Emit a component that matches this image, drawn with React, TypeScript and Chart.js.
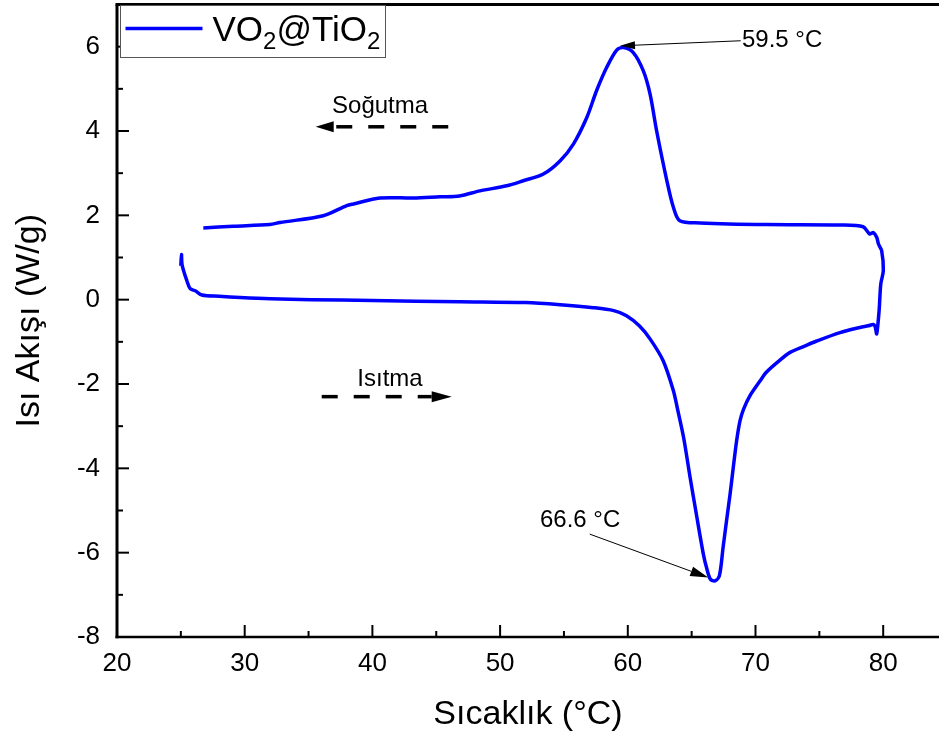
import React, { useEffect, useRef } from "react";
import { Chart, registerables } from "chart.js";

Chart.register(...registerables);

// Heating branch (Isıtma): temperature (°C) and heat flow (W/g)
const heatT = [
  25.0, 25.05, 25.1, 25.47, 25.73, 26.13, 26.65, 28.0, 29.66, 32.0, 35.2, 40.0,
  46.85, 52.0, 54.7, 57.3, 58.9, 59.9, 60.9, 61.74, 62.77, 63.57, 63.87, 64.37,
  64.87, 65.37, 65.92, 66.17, 66.47, 66.83, 67.17, 67.46, 67.73, 68.01, 68.26,
  68.52, 68.79, 69.06, 69.56, 70.35, 70.85, 71.85, 72.71, 73.85, 74.79, 76.62,
  78.18, 78.83, 79.23, 79.38, 79.49, 79.68, 79.81, 80.01,
];
const heatQ = [
  0.8, 1.07, 0.82, 0.45, 0.26, 0.21, 0.11, 0.08, 0.05, 0.02, 0.0, -0.02,
  -0.05, -0.07, -0.12, -0.19, -0.26, -0.38, -0.62, -0.93, -1.45, -2.16, -2.56, -3.27,
  -4.2, -5.09, -6.04, -6.36, -6.63, -6.67, -6.55, -5.88, -5.25, -4.61, -3.98,
  -3.35, -2.87, -2.6, -2.28, -1.93, -1.72, -1.45, -1.25, -1.1, -0.98, -0.78,
  -0.66, -0.62, -0.59, -0.65, -0.81, -0.26, 0.37, 0.69,
];

// Cooling branch (Soğutma)
const coolT = [
  79.88, 79.63, 79.49, 79.23, 78.93, 78.43, 76.64, 70.85, 65.67, 64.07, 63.57,
  63.06, 62.26, 61.74, 61.21, 60.43, 59.65, 59.13, 58.35, 57.56, 56.79, 55.74,
  54.69, 53.39, 51.81, 50.51, 48.42, 46.82, 45.3, 43.2, 40.59, 38.51, 37.99,
  36.15, 32.76, 31.97, 29.11, 26.76,
];
const coolQ = [
  1.16, 1.32, 1.48, 1.59, 1.56, 1.73, 1.77, 1.78, 1.82, 1.87, 2.19,
  2.82, 4.0, 4.88, 5.43, 5.86, 5.98, 5.92, 5.51, 4.96, 4.32, 3.69,
  3.29, 2.98, 2.82, 2.7, 2.58, 2.46, 2.44, 2.41, 2.41, 2.27, 2.23,
  1.99, 1.83, 1.78, 1.74, 1.7,
];

const xTicks = [20, 30, 40, 50, 60, 70, 80];
const xMinor = [25, 35, 45, 55, 65, 75];
const yTicks = [-8, -6, -4, -2, 0, 2, 4, 6];
const yMinor = [-7, -5, -3, -1, 1, 3, 5];

const seriesParts = ["VO", "2", "@TiO", "2"];
const xTitle = "Sıcaklık (°C)";
const yTitle = "Isı Akışı (W/g)";

const FONT = "'Liberation Sans', Arial, Helvetica, sans-serif";

type Note = { text: string; x: number; y: number; align: CanvasTextAlign };
type Arrow = { x1: number; y1: number; x2: number; y2: number; len: number; half: number; lw: number; dash: number[] };

const notes: Note[] = [
  { text: "59.5 °C", x: 68.94, y: 6.16, align: "left" },
  { text: "66.6 °C", x: 53.12, y: -5.24, align: "left" },
  { text: "Soğutma", x: 40.6, y: 4.58, align: "center" },
  { text: "Isıtma", x: 41.38, y: -1.9, align: "center" },
];
const arrows: Arrow[] = [
  { x1: 68.84, y1: 6.14, x2: 59.39, y2: 6.02, len: 15, half: 4, lw: 1, dash: [] },
  { x1: 57.02, y1: -5.56, x2: 66.3, y2: -6.59, len: 18, half: 5, lw: 1, dash: [] },
  { x1: 45.94, y1: 4.1, x2: 35.56, y2: 4.1, len: 18, half: 5.5, lw: 3.5, dash: [16, 16] },
  { x1: 36.03, y1: -2.3, x2: 46.21, y2: -2.3, len: 20, half: 5.5, lw: 3.5, dash: [16, 16] },
];

function drawArrow(ctx: CanvasRenderingContext2D, x1: number, y1: number, x2: number, y2: number, len: number, half: number, lw: number, dash: number[]) {
  const ang = Math.atan2(y2 - y1, x2 - x1);
  const bx = x2 - len * Math.cos(ang);
  const by = y2 - len * Math.sin(ang);
  ctx.lineWidth = lw;
  ctx.setLineDash(dash);
  ctx.beginPath();
  ctx.moveTo(x1, y1);
  ctx.lineTo(bx, by);
  ctx.stroke();
  ctx.setLineDash([]);
  ctx.beginPath();
  ctx.moveTo(x2, y2);
  ctx.lineTo(bx + half * Math.sin(ang), by - half * Math.cos(ang));
  ctx.lineTo(bx - half * Math.sin(ang), by + half * Math.cos(ang));
  ctx.closePath();
  ctx.fill();
}

const decorPlugin = {
  id: "decor",
  afterDraw(chart: any) {
    const { ctx, chartArea: ca, scales } = chart;
    const xs = scales.x;
    const ys = scales.y;
    const seg = (a: number, b: number, c: number, d: number) => {
      ctx.beginPath();
      ctx.moveTo(a, b);
      ctx.lineTo(c, d);
      ctx.stroke();
    };
    ctx.save();
    ctx.strokeStyle = "#000";
    ctx.fillStyle = "#000";
    ctx.lineCap = "butt";
    // frame
    ctx.lineWidth = 3;
    seg(ca.left - 1.5, ca.top, ca.right, ca.top);
    seg(ca.left, ca.top, ca.left, ca.bottom + 1.25);
    ctx.lineWidth = 2.5;
    seg(ca.left - 1.5, ca.bottom, ca.right, ca.bottom);
    // inward ticks
    ctx.lineWidth = 2;
    xTicks.forEach((v) => {
      const p = xs.getPixelForValue(v);
      seg(p, ca.bottom, p, ca.bottom - 12);
    });
    xMinor.forEach((v) => {
      const p = xs.getPixelForValue(v);
      seg(p, ca.bottom, p, ca.bottom - 6);
    });
    yTicks.forEach((v) => {
      const p = ys.getPixelForValue(v);
      seg(ca.left, p, ca.left + 12, p);
    });
    yMinor.forEach((v) => {
      const p = ys.getPixelForValue(v);
      seg(ca.left, p, ca.left + 6, p);
    });

    // annotations
    ctx.font = `24px ${FONT}`;
    ctx.textBaseline = "middle";
    notes.forEach((n) => {
      ctx.textAlign = n.align;
      ctx.fillText(n.text, xs.getPixelForValue(n.x), ys.getPixelForValue(n.y));
    });
    arrows.forEach((a) => {
      drawArrow(
        ctx,
        xs.getPixelForValue(a.x1),
        ys.getPixelForValue(a.y1),
        xs.getPixelForValue(a.x2),
        ys.getPixelForValue(a.y2),
        a.len,
        a.half,
        a.lw,
        a.dash
      );
    });

    // legend
    const bx = ca.left + 3.5;
    const by = ca.top + 1;
    ctx.fillStyle = "#fff";
    ctx.fillRect(bx, by, 265, 52);
    ctx.strokeStyle = "#555";
    ctx.lineWidth = 1;
    ctx.strokeRect(bx, by, 265, 52);
    ctx.strokeStyle = "#0000ff";
    ctx.lineWidth = 3.5;
    seg(bx + 5, by + 23, bx + 82, by + 23);
    ctx.fillStyle = "#000";
    ctx.textAlign = "left";
    ctx.textBaseline = "alphabetic";
    let tx = bx + 92;
    const base = by + 35;
    seriesParts.forEach((part, i) => {
      const sub = i % 2 === 1;
      ctx.font = sub ? `24px ${FONT}` : `35px ${FONT}`;
      ctx.fillText(part, tx, sub ? base + 8 : base);
      tx += ctx.measureText(part).width;
    });
    ctx.restore();
  },
};

export default function App() {
  const ref = useRef<HTMLCanvasElement | null>(null);
  useEffect(() => {
    if (!ref.current) return;
    const points = [
      ...heatT.map((t, i) => ({ x: t, y: heatQ[i] })),
      ...coolT.map((t, i) => ({ x: t, y: coolQ[i] })),
    ];
    const chart = new Chart(ref.current, {
      type: "scatter",
      data: {
        datasets: [
          {
            label: seriesParts.join(""),
            data: points,
            showLine: true,
            borderColor: "#0000ff",
            backgroundColor: "#0000ff",
            borderWidth: 3.5,
            pointRadius: 0,
            tension: 0.3,
          },
        ],
      },
      options: {
        animation: false,
        responsive: false,
        layout: { padding: { top: 4.5, left: 0, right: 0, bottom: 0 } },
        plugins: { legend: { display: false }, tooltip: { enabled: false } },
        scales: {
          x: {
            type: "linear",
            min: 20,
            max: 84.37,
            grid: { display: false },
            border: { display: false },
            afterBuildTicks: (s: any) => {
              s.ticks = xTicks.map((v) => ({ value: v }));
            },
            afterFit: (s: any) => {
              s.height = 737 - 637;
              s.paddingLeft = 0;
              s.paddingRight = 0;
            },
            ticks: {
              color: "#000",
              padding: 3,
              font: { family: FONT, size: 26 },
              callback: (v: any) => String(v),
            },
            title: {
              display: true,
              text: xTitle,
              color: "#000",
              font: { family: FONT, size: 34 },
              padding: { top: 0, bottom: 2 },
            },
          },
          y: {
            type: "linear",
            min: -8,
            max: 7,
            grid: { display: false },
            border: { display: false },
            afterBuildTicks: (s: any) => {
              s.ticks = yTicks.map((v) => ({ value: v }));
            },
            afterFit: (s: any) => {
              s.width = 117;
              s.paddingTop = 0;
              s.paddingBottom = 0;
            },
            ticks: {
              color: "#000",
              padding: 9,
              font: { family: FONT, size: 26 },
              callback: (v: any) => String(v),
            },
            title: {
              display: true,
              text: yTitle,
              color: "#000",
              font: { family: FONT, size: 34 },
              padding: { top: 9, bottom: 0 },
            },
          },
        },
      },
      plugins: [decorPlugin],
    });
    return () => chart.destroy();
  }, []);
  return (
    <div style={{ position: "fixed", left: 0, top: 0, width: 939, height: 737, background: "#fff" }}>
      <canvas ref={ref} width={939} height={737} style={{ display: "block", width: 939, height: 737 }} />
    </div>
  );
}
